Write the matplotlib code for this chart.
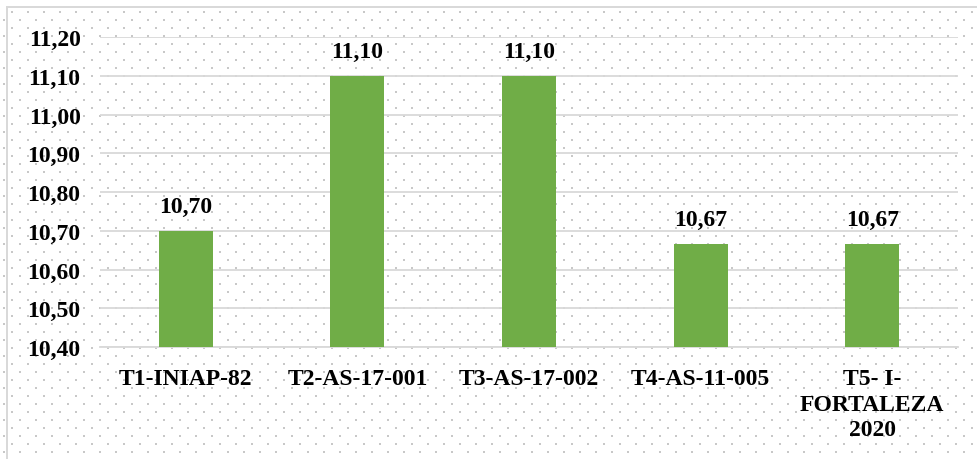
import numpy as np
import matplotlib
matplotlib.use("Agg")
import matplotlib.pyplot as plt
from matplotlib import font_manager
from matplotlib.ticker import MultipleLocator, FuncFormatter

categories = ["T1-INIAP-82", "T2-AS-17-001", "T3-AS-17-002", "T4-AS-11-005",
              "T5- I-\nFORTALEZA\n2020"]
values = [10.70, 11.10, 11.10, 10.667, 10.667]
labels = ["10,70", "11,10", "11,10", "10,67", "10,67"]

W, H, DPI = 978, 460, 100
fs = 17
serif_path = font_manager.findfont(
    font_manager.FontProperties(family="Liberation Serif", weight="bold"))
fp = font_manager.FontProperties(fname=serif_path, size=fs)

fig = plt.figure(figsize=(W / DPI, H / DPI), dpi=DPI)
fig.patch.set_facecolor("white")

# dotted background pattern with a light frame
bg = np.ones((H, W, 3))
dot = np.array([200, 200, 200]) / 255
for r, y in enumerate(range(12, H, 8)):
    x0 = 11 if r % 2 == 0 else 3
    for x in range(x0, W, 16):
        bg[y:y + 2, x:x + 2] = dot
frame = np.array([217, 217, 217]) / 255
bg[7:9, 6:, :] = frame
bg[7:, 6:8, :] = frame
fig.figimage(bg[::-1], 0, 0, origin="lower", zorder=-5)

ax = fig.add_axes([100 / W, 1 - 348 / H, 858 / W, 310 / H])
ax.set_zorder(2)
ax.set_facecolor("none")

x = np.arange(len(categories))
ax.bar(x, values, width=0.315, color="#70AD47", zorder=3)
ax.set_xlim(-0.5, len(categories) - 0.5)
ax.set_ylim(10.40, 11.20)
ax.yaxis.set_major_locator(MultipleLocator(0.10))
ax.yaxis.set_major_formatter(FuncFormatter(lambda v, p: f"{v:.2f}".replace(".", ",")))
ax.grid(axis="y", color="#d9d9d9", linewidth=1.3, zorder=1)
ax.set_axisbelow(True)

for s in ["top", "right", "left"]:
    ax.spines[s].set_visible(False)
ax.spines["bottom"].set_color("#d9d9d9")
ax.spines["bottom"].set_linewidth(1.3)

ax.set_xticks(x)
ax.set_xticklabels(categories, linespacing=1.3, va="top", fontproperties=fp)
ax.set_yticks(ax.get_yticks())
ax.set_yticklabels([f"{v:.2f}".replace(".", ",") for v in ax.get_yticks()],
                   fontproperties=fp)
ax.set_ylim(10.40, 11.20)
ax.tick_params(axis="x", length=0, pad=15)
ax.tick_params(axis="y", length=0, pad=14)

for xi, v, lab in zip(x, values, labels):
    ax.annotate(lab, (xi, v), xytext=(0, 10), textcoords="offset points",
                ha="center", va="bottom", fontproperties=fp)

fig.savefig("out.png", dpi=DPI)
